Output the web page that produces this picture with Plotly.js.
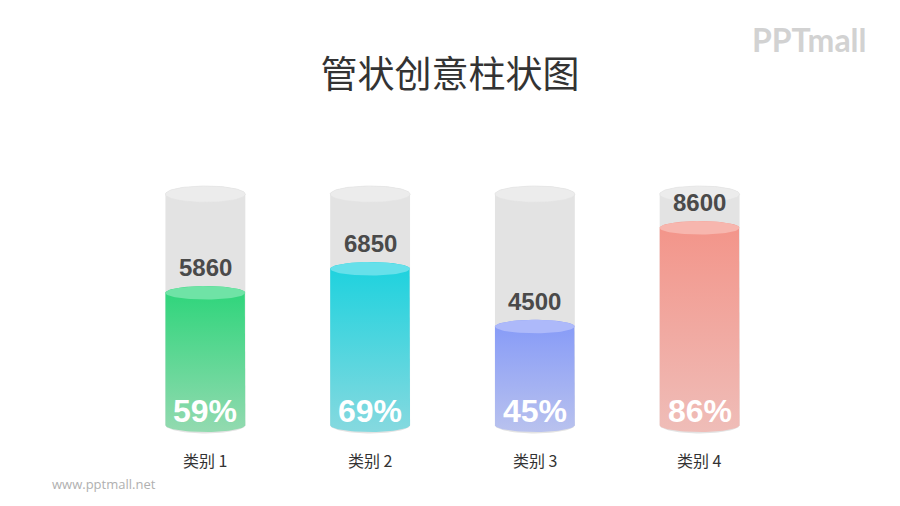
<!DOCTYPE html>
<html>
<head>
<meta charset="utf-8">
<script src="https://cdn.plot.ly/plotly-3.0.1.min.js"></script>
<style>html,body{margin:0;padding:0;background:#fff;}#chart{width:900px;height:506px;}</style>
</head>
<body>
<div id="chart"></div>
<script>
// ---- data ----
const categories = ['类别 1', '类别 2', '类别 3', '类别 4'];
const values = [5860, 6850, 4500, 8600];
const percents = [59, 69, 45, 86];
const titleText = '管状创意柱状图';

// ---- styles ----
const topColors = ['#30d57c', '#1fd2de', '#889cf7', '#f3958a'];
const bottomColors = ['#93dab0', '#86d9df', '#b9c2ee', '#efbdb8'];
const capColors = ['#6fe3a6', '#66e0ea', '#adb9fa', '#f7b6ae'];
const tubeBody = '#e3e3e3';
const tubeCap = '#ececec';
const FULL = 100, BASE = 4;         // tube spans BASE..FULL on the y axis
const HW = 40 / 165;                // half width in x units
const RY_TUBE = 3.4, RY_FILL = 2.8; // ellipse radii in y units

function arc(c, y, ry, a0, a1, n) {
  const xs = [], ys = [];
  for (let k = 0; k <= n; k++) {
    const t = a0 + (a1 - a0) * k / n;
    xs.push(c + HW * Math.cos(t));
    ys.push(y + ry * Math.sin(t));
  }
  return [xs, ys];
}
function body(c, yb, yt, ry) {
  const low = arc(c, yb, ry, Math.PI, 2 * Math.PI, 40);
  const up = arc(c, yt, ry, 0, Math.PI, 40);
  return [low[0].concat(up[0]).concat([low[0][0]]), low[1].concat(up[1]).concat([low[1][0]])];
}
function ellipse(c, y, ry) {
  return arc(c, y, ry, 0, 2 * Math.PI, 80);
}

const traces = [];
categories.forEach((cat, i) => {
  const p = percents[i];
  let b = body(i, BASE, FULL, RY_TUBE);
  traces.push({x: b[0], y: b[1], type: 'scatter', mode: 'lines', fill: 'toself',
    fillcolor: tubeBody, line: {width: 0}, hoverinfo: 'skip', showlegend: false});
  let e = ellipse(i, FULL, RY_TUBE);
  traces.push({x: e[0], y: e[1], type: 'scatter', mode: 'lines', fill: 'toself',
    fillcolor: tubeCap, line: {width: 0.6, color: '#e2e2e2'}, hoverinfo: 'skip', showlegend: false});
  b = body(i, BASE, p, RY_FILL);
  traces.push({x: b[0], y: b[1], type: 'scatter', mode: 'lines', fill: 'toself',
    fillgradient: {type: 'vertical', start: BASE - RY_FILL, stop: p,
      colorscale: [[0, bottomColors[i]], [1, topColors[i]]]},
    line: {width: 0}, hoverinfo: 'skip', showlegend: false});
  e = ellipse(i, p, RY_FILL);
  traces.push({x: e[0], y: e[1], type: 'scatter', mode: 'lines', fill: 'toself',
    fillcolor: capColors[i], line: {width: 0}, hoverinfo: 'skip', showlegend: false});
});

const annotations = [];
categories.forEach((cat, i) => {
  annotations.push({x: i, y: percents[i], xref: 'x', yref: 'y', text: String(values[i]),
    showarrow: false, yshift: 25, yanchor: 'middle',
    font: {family: 'Arial, "Liberation Sans", sans-serif', size: 24, color: '#4a4a4a', weight: 'bold'}});
  annotations.push({x: i, y: 10, xref: 'x', yref: 'y', text: percents[i] + '%',
    showarrow: false, yanchor: 'middle',
    font: {family: 'Arial, "Liberation Sans", sans-serif', size: 32, color: '#ffffff', weight: 'bold'}});
  annotations.push({x: i, y: -10.4, xref: 'x', yref: 'y', text: cat,
    showarrow: false, yanchor: 'middle',
    font: {family: '"Noto Sans CJK SC", sans-serif', size: 16, color: '#333333'}});
});
annotations.push({x: 1.0417, y: 1.315, xref: 'paper', yref: 'paper', text: 'PPTmall',
  showarrow: false, xanchor: 'center', yanchor: 'middle',
  font: {family: 'Lato, "Noto Sans", sans-serif', size: 32, color: '#d2d2d2', weight: 'bold'}});
annotations.push({x: -0.1115, y: -0.003, xref: 'paper', yref: 'paper', text: 'www.pptmall.net',
  showarrow: false, xanchor: 'left', yanchor: 'middle',
  font: {family: '"Open Sans", sans-serif', size: 13, color: '#b0b0b0'}});

const layout = {
  width: 900, height: 506,
  margin: {l: 122.5, r: 117.5, t: 146, b: 23, pad: 0},
  paper_bgcolor: '#ffffff', plot_bgcolor: '#ffffff',
  title: {text: titleText, x: 0.5, xref: 'container', y: 1 - 75 / 506, yref: 'container',
    xanchor: 'center', yanchor: 'middle',
    font: {family: '"Noto Sans CJK SC", sans-serif', size: 37, color: '#333333'}},
  xaxis: {range: [-0.5, 3.5], visible: false, fixedrange: true},
  yaxis: {range: [-20, 120], visible: false, fixedrange: true},
  showlegend: false,
  annotations: annotations
};

Plotly.newPlot('chart', traces, layout, {displayModeBar: false, staticPlot: true});
</script>
</body>
</html>
